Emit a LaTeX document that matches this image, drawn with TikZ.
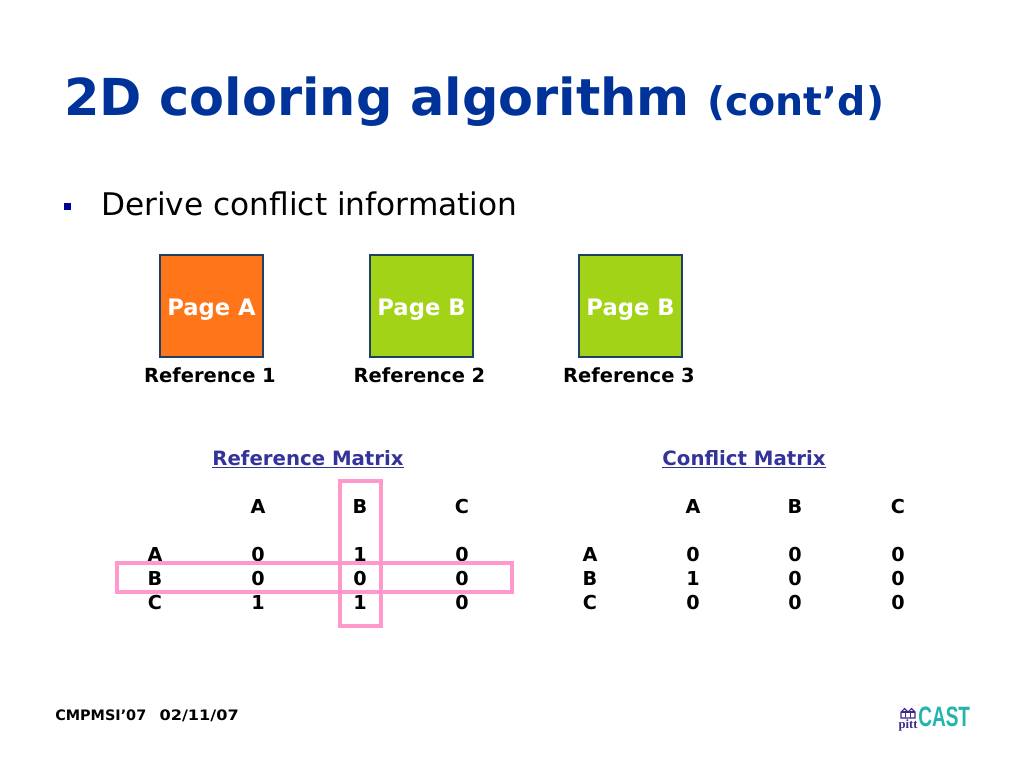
\documentclass[tikz,border=0pt]{standalone}
\usepackage{fontspec}
\setmainfont{DejaVu Sans}
\newfontfamily\logofont{Liberation Sans}
\newfontfamily\pittfont{Liberation Serif}
\definecolor{titleblue}{HTML}{003399}
\definecolor{bulletblue}{HTML}{000099}
\definecolor{linkblue}{HTML}{333399}
\definecolor{boxedge}{HTML}{1F3F66}
\definecolor{pageorange}{HTML}{FF7519}
\definecolor{pagegreen}{HTML}{A3D316}
\definecolor{markpink}{HTML}{FF99CC}
\definecolor{logoteal}{HTML}{22B5AE}
\definecolor{logopurple}{HTML}{3F2A8C}
\newcommand{\fs}[1]{\fontsize{#1}{#1}\selectfont}
\tikzset{
  x=0.75pt,y=-0.75pt,
  pagebox/.style={draw=boxedge,line width=1.5pt,minimum size=77pt,inner sep=0pt,text=white,font=\fs{17}\bfseries,text height=17pt,text depth=3.5pt},
  reflabel/.style={font=\fs{14.6}\bfseries,inner sep=0pt,text=black},
  cell/.style={font=\fs{14.4}\bfseries,inner sep=0pt,text=black,anchor=base},
  head/.style={font=\fs{14.8}\bfseries,inner sep=0pt,text=linkblue,anchor=base},
  markbox/.style={draw=markpink,line width=2.4pt},
}
\begin{document}
\begin{tikzpicture}
\useasboundingbox (0,0) rectangle (1024,768);
\fill[white] (0,0) rectangle (1024,768);
\node[anchor=base west,inner sep=0pt,text=titleblue,font=\fs{38.2}\bfseries] (title) at (64,115) {2D coloring algorithm};
\node[anchor=base west,inner sep=0pt,text=titleblue,font=\fs{29.6}\bfseries] (cont) at (707,115.5) {(cont’d)};
\fill[bulletblue] (63.5,202.5) rectangle (71,210);
\node[anchor=base west,inner sep=0pt,text=black,font=\fs{23.4}] (bullet) at (101,215) {Derive conflict information};
\node[pagebox,fill=pageorange] (p1) at (211.5,306) {Page A};
\node[pagebox,fill=pagegreen] (p2) at (421.5,306) {Page B};
\node[pagebox,fill=pagegreen] (p3) at (630.5,306) {Page B};
\node[reflabel] (r1) at (210,375) {Reference 1};
\node[reflabel] (r2) at (419.5,375) {Reference 2};
\node[reflabel] (r3) at (629,375) {Reference 3};
\node[head] (hl) at (308,465) {\underline{Reference Matrix}};
\node[head] (hr) at (744,465) {\underline{Conflict Matrix}};
\foreach \n/\x/\y/\t in {a1/258/513/A,a2/360/513/B,a3/462/513/C,
  b0/155/561/A,b1/258/561/0,b2/360/561/1,b3/462/561/0,
  c0/155/585/B,c1/258/585/0,c2/360/585/0,c3/462/585/0,
  d0/155/609/C,d1/258/609/1,d2/360/609/1,d3/462/609/0,
  e1/693/513/A,e2/795/513/B,e3/898/513/C,
  f0/590/561/A,f1/693/561/0,f2/795/561/0,f3/898/561/0,
  g0/590/585/B,g1/693/585/1,g2/795/585/0,g3/898/585/0,
  h0/590/609/C,h1/693/609/0,h2/795/609/0,h3/898/609/0}
  \node[cell] (\n) at (\x,\y) {\t};
\draw[markbox] (340,481) rectangle (381,626);
\draw[markbox] (117,563) rectangle (512,592);
\node[anchor=base west,inner sep=0pt,text=black,font=\bfseries\fs{10.8}] (foot) at (55,720) {CMPMSI’07\hspace{10pt}\scalebox{1.12}[1]{02/11/07}};
% logo
\node[anchor=base west,inner sep=0pt,text=logoteal,font=\logofont\bfseries\fs{21}] (cast) at (918,726) {\scalebox{0.68}[1]{CAST}};
\node[anchor=base,inner sep=0pt,text=logopurple,font=\pittfont\bfseries\fs{9.5}] (pitt) at (908,728) {pitt};
\draw[logopurple,line width=0.8pt] (901,718) -- (901,712) -- (904.5,708.5) -- (908,712) -- (911.5,708.5) -- (915,712) -- (915,718) -- cycle;
\draw[logopurple,line width=0.8pt] (901,712) -- (915,712) (905.5,712) -- (905.5,718) (910.5,712) -- (910.5,718);
\end{tikzpicture}
\end{document}
